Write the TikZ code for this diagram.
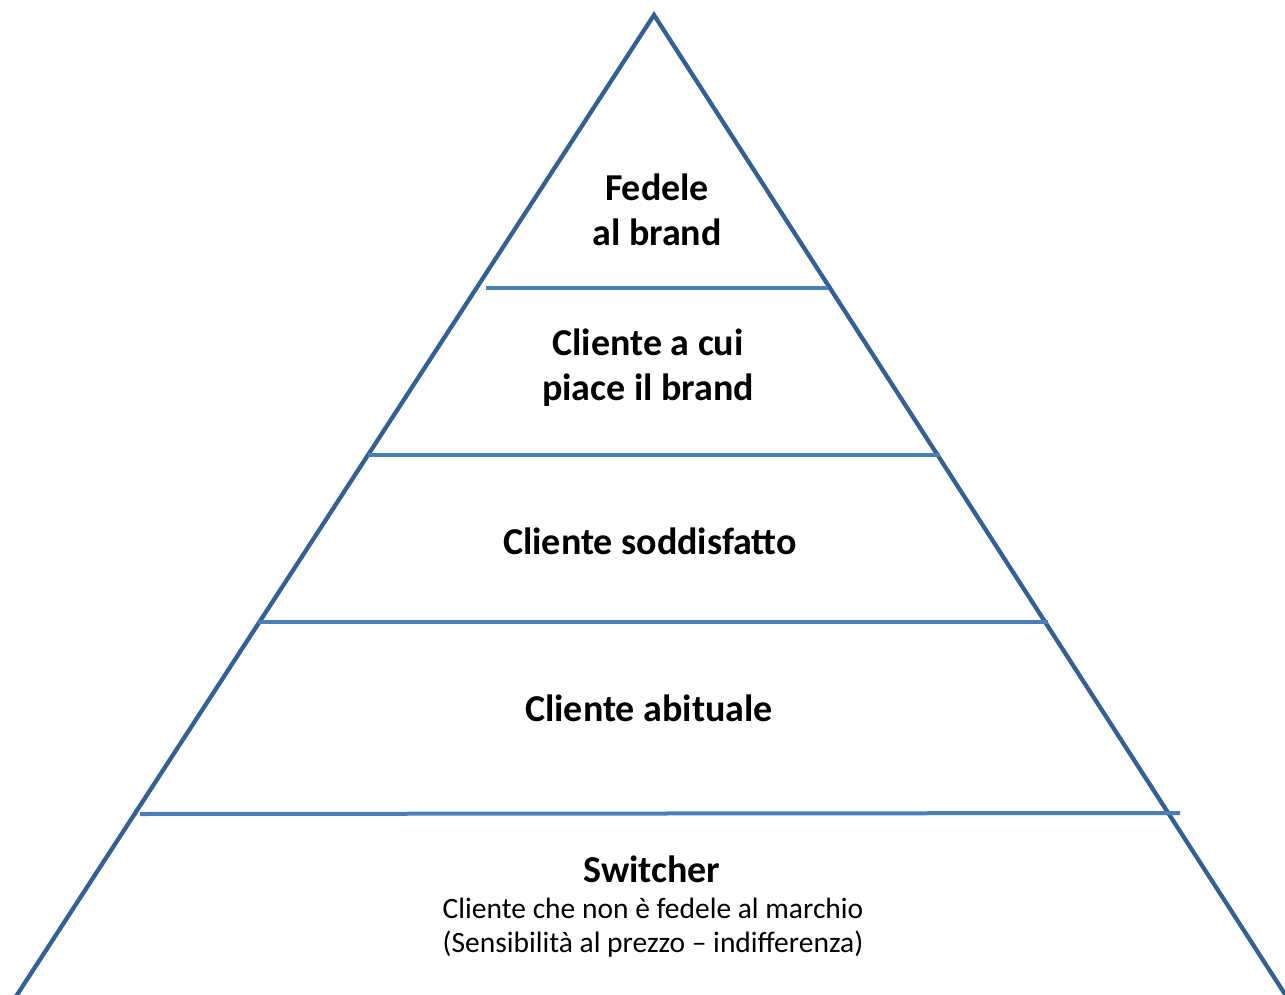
\documentclass[tikz,border=0pt]{standalone}
\usepackage{fontspec}
\setmainfont{Carlito}
\begin{document}
\begin{tikzpicture}[x=1pt,y=-1pt,
  edge/.style={draw={rgb,255:red,52;green,96;blue,146},line width=4.3pt},
  level/.style={draw={rgb,255:red,74;green,126;blue,187},line width=4pt},
  title/.style={font=\bfseries\fontsize{38}{45}\selectfont,align=center,inner sep=0pt},
  sub/.style={font=\fontsize{29.5}{34}\selectfont,align=center,inner sep=0pt}]
\useasboundingbox (0,0) rectangle (1285,995);
\coordinate (apex) at (654,15);
\coordinate (bl) at (15,998);
\coordinate (br) at (1290,1002);
\draw[edge,line join=miter] (bl) -- (apex) -- (br);
\coordinate (l1a) at (486,288); \coordinate (l1b) at (828,288);
\coordinate (l2a) at (368,455); \coordinate (l2b) at (940,455);
\coordinate (l3a) at (258,622); \coordinate (l3b) at (1048,622);
\coordinate (l4a) at (140,814); \coordinate (l4b) at (1180,813);
\draw[level] (l1a) -- (l1b);
\draw[level] (l2a) -- (l2b);
\draw[level] (l3a) -- (l3b);
\draw[level] (l4a) -- (l4b);
\node[title] (t1) at (657,210) {Fedele\\ al brand};
\node[title] (t2) at (648,368) {Cliente a cui\\ piace il brand};
\node[title] (t3) at (650,541) {Cliente soddisfatto};
\node[title] (t4) at (649,708) {Cliente abituale};
\node[title] (t5) at (652,869) {Switcher};
\node[sub] (t6) at (653,928) {Cliente che non è fedele al marchio\\ (Sensibilità al prezzo – indifferenza)};
\end{tikzpicture}
\end{document}
